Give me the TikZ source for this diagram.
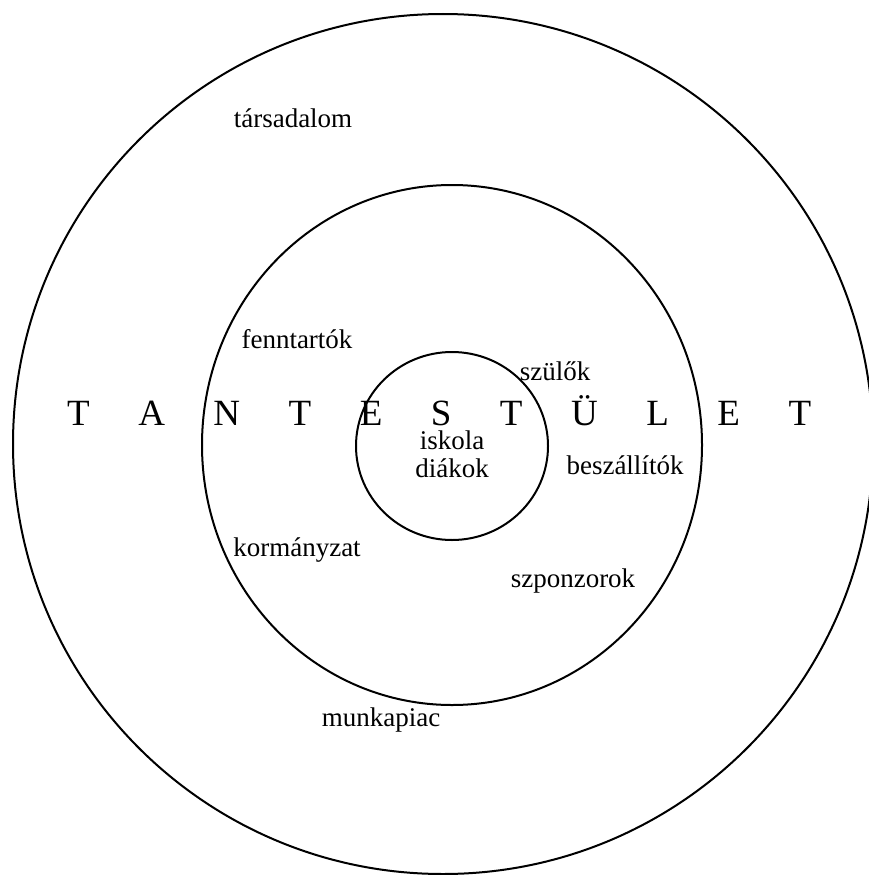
\documentclass[tikz,border=0pt]{standalone}
\usepackage{fontspec}
\setmainfont{Liberation Serif}
\usetikzlibrary{positioning}

\newcommand{\tgap}{\hspace{48.5pt}}

\begin{document}
\begin{tikzpicture}[x=1pt,y=-1pt,
  ring/.style={draw,line width=2pt},
  lbl/.style={inner sep=0pt,anchor=base,font=\fontsize{27}{30}\selectfont},
  big/.style={inner sep=0pt,anchor=base west,font=\fontsize{37}{40}\selectfont}]
  \useasboundingbox (0,0) rectangle (868,875);
  % rings
  \draw[ring] (443,444) ellipse [x radius=430,y radius=430];
  \draw[ring] (452,445) ellipse [x radius=250,y radius=260];
  \draw[ring] (452,446) ellipse [x radius=96,y radius=94];
  % labels
  \node[big] (staff) at (67,425) {T\tgap A\tgap N\tgap T\tgap E\tgap S\tgap T\tgap Ü\tgap L\tgap E\tgap T};
  \node[lbl] (soc) at (293,127) {társadalom};
  \node[lbl] (own) at (297,348) {fenntartók};
  \node[lbl] (par) at (555,380) {szülők};
  \node[lbl] (sch) at (452,449) {iskola};
  \node[lbl] (stu) at (452,477) {diákok};
  \node[lbl] (sup) at (625,474) {beszállítók};
  \node[lbl] (gov) at (297,556) {kormányzat};
  \node[lbl] (spo) at (573,587) {szponzorok};
  \node[lbl] (job) at (381,726) {munkapiac};
\end{tikzpicture}
\end{document}
